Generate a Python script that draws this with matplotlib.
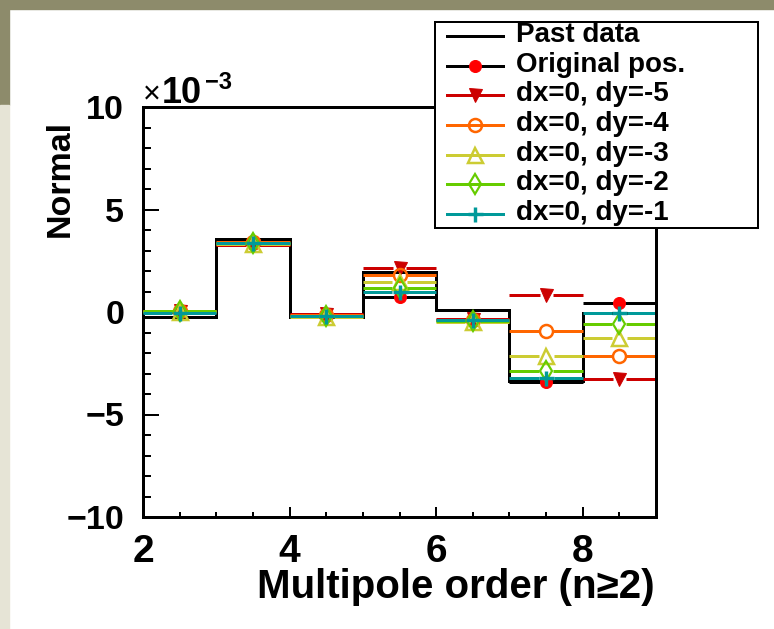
import matplotlib
matplotlib.use('Agg')
import matplotlib.pyplot as plt
from matplotlib.patches import Rectangle
from matplotlib.lines import Line2D
import numpy as np

plt.rcParams['font.family'] = ['Liberation Sans', 'DejaVu Sans']
plt.rcParams['font.weight'] = 'bold'

# ---------------- data (units of 1e-3) ----------------
bin_edges = [2, 3, 4, 5, 6, 7, 8, 9]
past_data = [-0.26, 3.56, -0.23, 1.97, 0.12, -3.35, -0.05]
original_pos = [0.00, 3.30, -0.20, 0.75, -0.40, -3.42, 0.45]
dy_m5 = [0.05, 3.25, -0.10, 2.13, -0.35, 0.82, -3.28]
dy_m4 = [0.05, 3.40, -0.15, 1.80, -0.40, -0.93, -2.13]
dy_m3 = [0.00, 3.30, -0.22, 1.46, -0.50, -2.13, -1.27]
dy_m2 = [0.05, 3.35, -0.20, 1.17, -0.45, -2.86, -0.60]
dy_m1 = [-0.05, 3.35, -0.20, 0.96, -0.38, -3.20, -0.03]

legend_labels = ["Past data", "Original pos.", "dx=0, dy=-5", "dx=0, dy=-4",
                 "dx=0, dy=-3", "dx=0, dy=-2", "dx=0, dy=-1"]
x_major_ticks = [2, 4, 6, 8]
y_major_ticks = [-10, -5, 0, 5, 10]
scale_exponent = -3
x_title = "Multipole order (n\u22652)"
y_title = "Normal"

# ---------------- styles ----------------
W, H = 774, 629
PX = 0.72  # points per pixel at dpi 100
LW = 3 * PX

series = [
    # values, line color, marker, size(px), face, marker color, mew(px)
    (original_pos, 'black', 'o', 12, '#ff0000', '#ff0000', 1.0),
    (dy_m5, '#cc0000', 'v', 13, '#cc0000', '#cc0000', 1.0),
    (dy_m4, '#ff6600', 'o', 13, 'none', '#ff6600', 2.5),
    (dy_m3, '#cccc33', '^', 15, 'none', '#cccc33', 2.5),
    (dy_m2, '#66cc00', 'd', 14, 'none', '#66cc00', 2.2),
    (dy_m1, '#009999', '+', 15, 'none', '#009999', 3.4),
]

fig = plt.figure(figsize=(W / 100, H / 100), dpi=100)
fig.patch.set_facecolor('white')

# textured-looking border strips
fig.patches.append(Rectangle((0, 1 - 9 / H), 1, 9 / H, transform=fig.transFigure,
                             color='#8d8b6b', zorder=0))
fig.patches.append(Rectangle((0, 1 - 105 / H), 9 / W, 105 / H, transform=fig.transFigure,
                             color='#8d8b6b', zorder=0))
fig.patches.append(Rectangle((0, 0), 9 / W, 1 - 105 / H, transform=fig.transFigure,
                             color='#e6e4d6', zorder=0))

L, R, T, B = 143, 656, 107, 517
ax = fig.add_axes([L / W, 1 - B / H, (R - L) / W, (B - T) / H])
ax.set_xlim(2, 9)
ax.set_ylim(-10, 10)

px_per_unit = (R - L) / 7.0
edges = np.array(bin_edges, dtype=float)
centers = 0.5 * (edges[:-1] + edges[1:])

ax.stairs(past_data, edges, baseline=None, color='black', lw=LW, zorder=2)

z = 3
for vals, lc, mk, size, fc, mc, mew in series:
    vals = np.asarray(vals)
    h = (size / 2) / px_per_unit
    ax.hlines(vals, edges[:-1], centers - h, color=lc, lw=LW, zorder=z)
    ax.hlines(vals, centers + h, edges[1:], color=lc, lw=LW, zorder=z)
    ax.plot(centers, vals, ls='none', marker=mk, ms=size * PX, mfc=fc, mec=mc,
            mew=mew * PX, zorder=z + 0.5, clip_on=False)
    z += 1

for s in ax.spines.values():
    s.set_linewidth(LW)
ax.spines['top'].set_zorder(20)
ax.spines['right'].set_zorder(20)

ax.set_xticks(x_major_ticks)
ax.set_xticks(np.arange(2, 9.01, 0.5), minor=True)
ax.set_yticks(y_major_ticks)
ax.set_yticks(np.arange(-10, 10.01, 1), minor=True)
ax.set_xticklabels([str(v) for v in x_major_ticks])
ax.set_yticklabels([str(v).replace('-', '\u2212') for v in y_major_ticks])

ax.tick_params(axis='x', which='major', direction='in', length=10 * PX, width=2 * PX,
               labelsize=28, pad=12.5, top=False)
ax.tick_params(axis='x', which='minor', direction='in', length=5 * PX, width=2 * PX, top=False)
ax.tick_params(axis='y', which='major', direction='in', length=16 * PX, width=2 * PX,
               labelsize=24.5, pad=13.5, right=False)
ax.tick_params(axis='y', which='minor', direction='in', length=8 * PX, width=2 * PX, right=False)
for lab in ax.get_xticklabels() + ax.get_yticklabels():
    lab.set_fontweight('bold')

# scale factor label
fig.text(143 / W, 1 - 103 / H, "\u00d7", fontsize=22, fontweight='normal', ha='left', va='baseline')
fig.text(162 / W, 1 - 103 / H, "10", fontsize=26, fontweight='bold', ha='left', va='baseline')
fig.text(205 / W, 1 - 89 / H, str(scale_exponent).replace('-', '\u2212'), fontsize=17,
         fontweight='bold', ha='left', va='baseline')

# axis titles
fig.text(60 / W, 1 - 120 / H, y_title, rotation=90, fontsize=24.5, fontweight='bold',
         ha='center', va='top')
fig.text(655 / W, 1 - 598 / H, x_title, fontsize=29, fontweight='bold',
         ha='right', va='baseline')

# legend drawn in its own box
LX0, LY0, LX1, LY1 = 435, 22, 758, 228
lax = fig.add_axes([LX0 / W, 1 - LY1 / H, (LX1 - LX0) / W, (LY1 - LY0) / H], zorder=10)
lax.set_xlim(0, LX1 - LX0)
lax.set_ylim(LY1 - LY0, 0)
lax.set_xticks([])
lax.set_yticks([])
lax.set_facecolor('white')
for s in lax.spines.values():
    s.set_linewidth(2 * PX)

row_y = [14 + 29.7 * i for i in range(len(legend_labels))]
# Past data
lax.add_line(Line2D([12, 68], [row_y[0], row_y[0]], color='black', lw=LW))
for i, (vals, lc, mk, size, fc, mc, mew) in enumerate(series, start=1):
    lax.add_line(Line2D([12, 68], [row_y[i], row_y[i]], color=lc, lw=LW))
    lax.plot([40], [row_y[i]], ls='none', marker=mk, ms=size * PX, mfc=fc, mec=mc, mew=mew * PX)
for y, lab in zip(row_y, legend_labels):
    lax.text(81, y + 6, lab, fontsize=20, fontweight='bold', ha='left', va='baseline')

fig.savefig('out.png', dpi=100, facecolor=fig.get_facecolor())
